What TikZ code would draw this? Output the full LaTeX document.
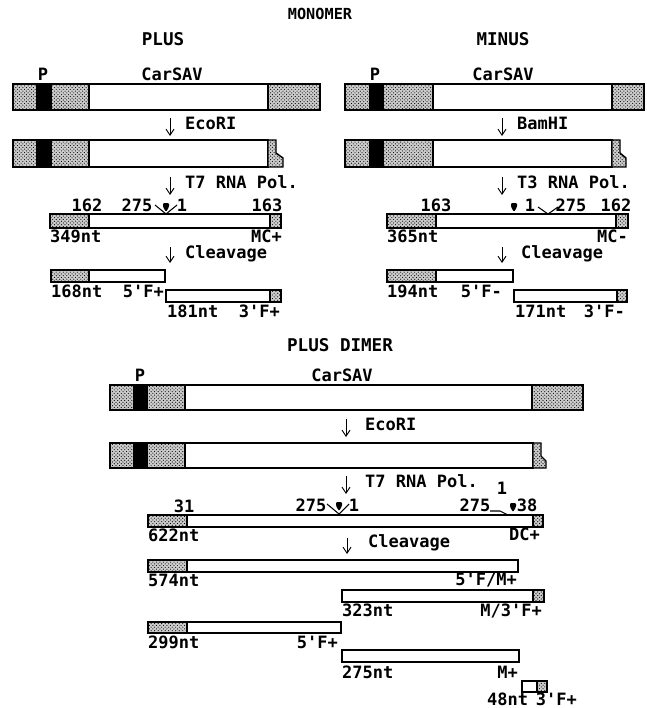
\documentclass[tikz,border=0pt]{standalone}
\usepackage{fontspec}
\newfontfamily\dotfont{DejaVu Sans Mono}
\usetikzlibrary{arrows.meta,patterns}
\tikzset{
  stip/.style={draw=black,line width=1.2pt,preaction={fill=gray!40},pattern=crosshatch dots},
  blk/.style={draw=black,line width=1.2pt,fill=black},
  wht/.style={draw=black,line width=1.2pt,fill=white},
  lbl/.style={font=\dotfont\bfseries\fontsize{14.5}{16}\selectfont,inner sep=0pt},
  ttl/.style={font=\dotfont\bfseries\fontsize{15}{17}\selectfont,inner sep=0pt},
  dn/.style={-{Straight Barb[length=1.8mm,width=2.4mm]},line width=0.8pt},
  vmark/.style={line width=0.9pt},
  tear/.pic={\fill[rounded corners=1pt] (-3,-4) -- (3,-4) -- (3,0) -- (0,5) -- (-3,0) -- cycle;},
}

\begin{document}
\begin{tikzpicture}[x=0.03cm,y=-0.03cm]
  \useasboundingbox (0,0) rectangle (646,708);
  \node[ttl,font=\dotfont\bfseries\fontsize{13}{15}\selectfont] (mono) at (320,14) {MONOMER};
  \node[ttl] (plus) at (163,39) {PLUS};
  \node[ttl] (minus) at (503,39) {MINUS};

  % plus monomer
  \node[lbl] (p1) at (43,74) {P};
  \node[lbl] (car1) at (172,74) {CarSAV};
  \draw[stip] (13,84) rectangle (37,110);
  \draw[blk] (37,84) rectangle (51,110);
  \draw[stip] (51,84) rectangle (89,110);
  \draw[wht] (89,84) rectangle (268,110);
  \draw[stip] (268,84) rectangle (320,110);
  \coordinate (a1) at (170,118); \coordinate (a1e) at (170,136);
  \draw[dn] (a1) -- (a1e);
  \node[lbl,anchor=mid west] (eco1) at (185,127) {EcoRI};
  \draw[stip] (13,140) rectangle (37,167);
  \draw[blk] (37,140) rectangle (51,167);
  \draw[stip] (51,140) rectangle (89,167);
  \draw[wht] (89,140) rectangle (268,167);
  \draw[stip] (268,140) -- (276,140) -- (276,153) -- (283,158) -- (283,167) -- (268,167) -- cycle;
  \coordinate (a2) at (170,177); \coordinate (a2e) at (170,195);
  \draw[dn] (a2) -- (a2e);
  \node[lbl,anchor=mid west] (t7a) at (185,186) {T7 RNA Pol.};
  \node[lbl] (n162a) at (87,205) {162};
  \node[lbl] (n275a) at (137,205) {275};
  \draw[vmark] (155,205) -- (166,214) -- (177,205);
  \pic at (166,207) {tear};
  \node[lbl] (n1a) at (182,205) {1};
  \node[lbl] (n163a) at (267,205) {163};
  \draw[stip] (50,214) rectangle (89,228);
  \draw[wht] (89,214) rectangle (270,228);
  \draw[stip] (270,214) rectangle (281,228);
  \node[lbl,anchor=mid west] (nt349) at (50,240) {349nt};
  \node[lbl,anchor=mid east] (mcp) at (282,240) {MC+};
  \coordinate (a3) at (170,247); \coordinate (a3e) at (170,263);
  \draw[dn] (a3) -- (a3e);
  \node[lbl,anchor=mid west] (clv1) at (185,256) {Cleavage};
  \draw[stip] (51,270) rectangle (89,282);
  \draw[wht] (89,270) rectangle (165,282);
  \node[lbl,anchor=mid west] (nt168) at (51,295) {168nt};
  \node[lbl,anchor=mid east] (f5p) at (164,295) {5'F+};
  \draw[wht] (166,290) rectangle (270,302);
  \draw[stip] (270,290) rectangle (281,302);
  \node[lbl,anchor=mid west] (nt181) at (167,315) {181nt};
  \node[lbl,anchor=mid east] (f3p) at (280,315) {3'F+};

  % minus monomer
  \node[lbl] (p2) at (375,74) {P};
  \node[lbl] (car2) at (503,74) {CarSAV};
  \draw[stip] (345,84) rectangle (370,110);
  \draw[blk] (370,84) rectangle (383,110);
  \draw[stip] (383,84) rectangle (433,110);
  \draw[wht] (433,84) rectangle (612,110);
  \draw[stip] (612,84) rectangle (644,110);
  \coordinate (b1) at (502,118); \coordinate (b1e) at (502,136);
  \draw[dn] (b1) -- (b1e);
  \node[lbl,anchor=mid west] (bam) at (517,127) {BamHI};
  \draw[stip] (345,140) rectangle (370,167);
  \draw[blk] (370,140) rectangle (383,167);
  \draw[stip] (383,140) rectangle (433,167);
  \draw[wht] (433,140) rectangle (612,167);
  \draw[stip] (612,140) -- (620,140) -- (620,153) -- (626,158) -- (626,167) -- (612,167) -- cycle;
  \coordinate (b2) at (502,177); \coordinate (b2e) at (502,195);
  \draw[dn] (b2) -- (b2e);
  \node[lbl,anchor=mid west] (t3) at (517,186) {T3 RNA Pol.};
  \node[lbl] (n163b) at (436,205) {163};
  \pic at (514,207) {tear};
  \node[lbl] (n1b) at (530,205) {1};
  \draw[vmark] (538,207) -- (548,214) -- (558,207);
  \node[lbl] (n275b) at (571,205) {275};
  \node[lbl] (n162b) at (616,205) {162};
  \draw[stip] (387,214) rectangle (436,228);
  \draw[wht] (436,214) rectangle (616,228);
  \draw[stip] (616,214) rectangle (628,228);
  \node[lbl,anchor=mid west] (nt365) at (387,240) {365nt};
  \node[lbl,anchor=mid east] (mcm) at (628,240) {MC-};
  \coordinate (b3) at (502,247); \coordinate (b3e) at (502,263);
  \draw[dn] (b3) -- (b3e);
  \node[lbl,anchor=mid west] (clv2) at (521,256) {Cleavage};
  \draw[stip] (387,270) rectangle (436,282);
  \draw[wht] (436,270) rectangle (513,282);
  \node[lbl,anchor=mid west] (nt194) at (387,295) {194nt};
  \node[lbl,anchor=mid east] (f5m) at (502,295) {5'F-};
  \draw[wht] (514,290) rectangle (617,302);
  \draw[stip] (617,290) rectangle (627,302);
  \node[lbl,anchor=mid west] (nt171) at (515,315) {171nt};
  \node[lbl,anchor=mid east] (f3m) at (625,315) {3'F-};

  % plus dimer
  \node[ttl] (dimer) at (340,345) {PLUS DIMER};
  \node[lbl] (p3) at (140,375) {P};
  \node[lbl] (car3) at (342,375) {CarSAV};
  \draw[stip] (110,385) rectangle (134,410);
  \draw[blk] (134,385) rectangle (147,410);
  \draw[stip] (147,385) rectangle (185,410);
  \draw[wht] (185,385) rectangle (532,410);
  \draw[stip] (532,385) rectangle (583,410);
  \coordinate (c1) at (346,419); \coordinate (c1e) at (346,437);
  \draw[dn] (c1) -- (c1e);
  \node[lbl,anchor=mid west] (eco2) at (365,428) {EcoRI};
  \draw[stip] (110,443) rectangle (134,468);
  \draw[blk] (134,443) rectangle (147,468);
  \draw[stip] (147,443) rectangle (185,468);
  \draw[wht] (185,443) rectangle (533,468);
  \draw[stip] (533,443) -- (541,443) -- (541,456) -- (546,461) -- (546,468) -- (533,468) -- cycle;
  \coordinate (c2) at (346,476); \coordinate (c2e) at (346,494);
  \draw[dn] (c2) -- (c2e);
  \node[lbl,anchor=mid west] (t7b) at (365,485) {T7 RNA Pol.};
  \node[lbl] (n31) at (184,506) {31};
  \node[lbl] (n275c) at (311,505) {275};
  \draw[vmark] (327,504) -- (339,514) -- (349,504);
  \pic at (339,506) {tear};
  \node[lbl] (n1c) at (354,505) {1};
  \node[lbl] (n275d) at (475,505) {275};
  \draw[vmark] (490,511) -- (500,511) -- (508,515);
  \pic at (513,507) {tear};
  \node[lbl] (n1d) at (502,488) {1};
  \node[lbl] (n38) at (527,505) {38};
  \draw[stip] (148,515) rectangle (187,527);
  \draw[wht] (187,515) rectangle (533,527);
  \draw[stip] (533,515) rectangle (543,527);
  \node[lbl,anchor=mid west] (nt622) at (148,539) {622nt};
  \node[lbl,anchor=mid east] (dcp) at (540,538) {DC+};
  \coordinate (c3) at (347,538); \coordinate (c3e) at (347,554);
  \draw[dn] (c3) -- (c3e);
  \node[lbl,anchor=mid west] (clv3) at (368,545) {Cleavage};
  \draw[stip] (148,560) rectangle (187,572);
  \draw[wht] (187,560) rectangle (518,572);
  \node[lbl,anchor=mid west] (nt574) at (148,584) {574nt};
  \node[lbl,anchor=mid east] (f5mp) at (517,583) {5'F/M+};
  \draw[wht] (342,590) rectangle (533,602);
  \draw[stip] (533,590) rectangle (544,602);
  \node[lbl,anchor=mid west] (nt323) at (342,614) {323nt};
  \node[lbl,anchor=mid east] (mf3p) at (542,614) {M/3'F+};
  \draw[stip] (148,622) rectangle (187,633);
  \draw[wht] (187,622) rectangle (341,633);
  \node[lbl,anchor=mid west] (nt299) at (148,646) {299nt};
  \node[lbl,anchor=mid east] (f5d) at (338,646) {5'F+};
  \draw[wht] (342,650) rectangle (519,662);
  \node[lbl,anchor=mid west] (nt275) at (342,676) {275nt};
  \node[lbl,anchor=mid east] (mp) at (518,676) {M+};
  \draw[wht] (522,681) rectangle (537,692);
  \draw[stip] (537,681) rectangle (547,692);
  \node[lbl,anchor=mid west] (nt48) at (487,703) {48nt};
  \node[lbl,anchor=mid east] (f3d) at (577,703) {3'F+};
\end{tikzpicture}
\end{document}
